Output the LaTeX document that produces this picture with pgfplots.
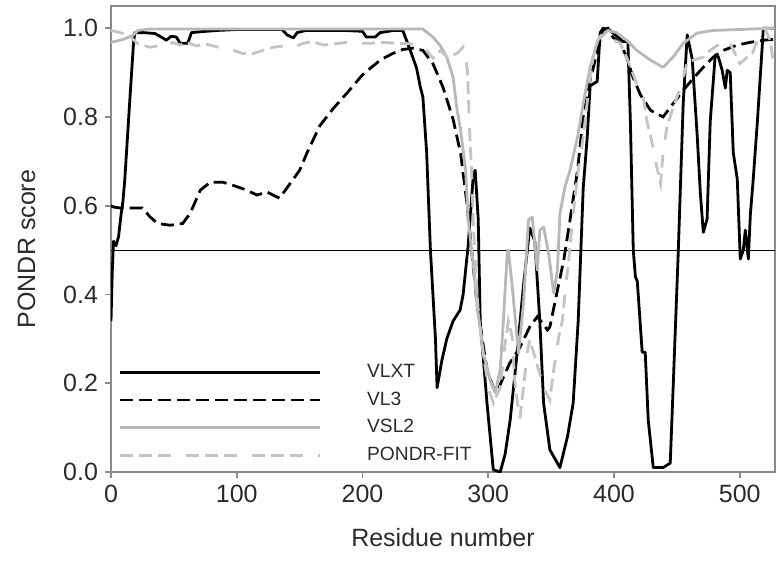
\documentclass[border=0pt]{standalone}
\usepackage{fontspec}
\setmainfont{Liberation Sans}
\usepackage{pgfplots}
\pgfplotsset{compat=1.18}

\definecolor{axgray}{HTML}{8A8A8A}
\definecolor{txt}{HTML}{2B2B2B}
\definecolor{vslgray}{HTML}{B8B8B8}
\definecolor{fitgray}{HTML}{C4C4C4}

\begin{document}
\begin{tikzpicture}
\useasboundingbox (-55.5pt,-48.5pt) rectangle (333pt,236pt);
\begin{axis}[
    name=ax,
    at={(0,0)}, anchor=south west,
    scale only axis,
    width=332pt, height=233pt,
    xmin=0, xmax=528, ymin=0, ymax=1.05,
    axis line style={axgray, line width=0.8pt},
    xtick={0,100,...,500},
    ytick={0,0.2,...,1.0},
    yticklabel style={/pgf/number format/.cd, fixed, fixed zerofill, precision=1},
    tick style={axgray, line width=0.8pt},
    major tick length=3pt,
    tick align=outside,
    xtick pos=bottom, ytick pos=left,
    /pgf/number format/assume math mode=true,
    ticklabel style={font=\fontsize{12.5}{14}\selectfont, text=txt},
    xlabel={Residue number},
    ylabel={PONDR score},
    label style={font=\fontsize{12.5}{15}\selectfont, text=txt},
    xlabel style={yshift=-6pt},
    ylabel style={yshift=7pt, xshift=-5pt},
    legend style={at={(0.0105,0.238)}, anchor=north west, draw=none, fill=none,
        inner sep=0pt, row sep=2.8pt,
        font=\fontsize{9.6}{11.5}\selectfont, text=txt,
        nodes={inner sep=1pt, text height=7pt, text depth=2pt}},
    legend cell align=left,
    legend image code/.code={\draw[#1] (0pt,0pt) -- (100pt,0pt); \path (122pt,0pt);},
]
\addplot[black, line width=0.5pt, forget plot] coordinates {(0,0.5) (528,0.5)};

% VLXT
\addplot[black, line width=1.4pt, line join=round] coordinates {
(0,0.34)(1,0.45)(2,0.52)(4,0.51)(6,0.53)(8,0.58)(9.5,0.61)(11,0.66)(15,0.84)(18,0.97)
(19,0.99)(26,0.99)(35,0.988)(40,0.98)(44,0.973)(48,0.982)(52,0.98)(55,0.966)(61,0.966)
(64,0.99)(71,0.992)(85,0.995)(100,0.997)(120,0.997)(136,0.997)(140,0.985)(145,0.978)
(148,0.99)(155,0.995)(185,0.995)(200,0.993)(203,0.98)(210,0.98)(214,0.99)(225,0.995)
(232,0.995)(238,0.95)(243,0.91)(246,0.867)(248,0.845)(251,0.72)(254,0.5)(258,0.30)
(259.3,0.19)(263,0.25)(267,0.30)(272,0.34)(277.6,0.365)(280,0.40)(284,0.51)(288,0.665)
(289.6,0.68)(292,0.57)(293.6,0.34)(299,0.155)(304,0.005)(309.5,0.0)(313.4,0.04)
(317.4,0.117)(323,0.27)(328,0.42)(333,0.55)(337,0.52)(341,0.34)(344,0.155)(349,0.05)
(357,0.01)(363,0.08)(367.5,0.155)(371.5,0.34)(375.5,0.64)(378.7,0.755)(381,0.87)
(386.6,0.88)(389,0.99)(391.4,1.0)(397,0.995)(407,0.97)(411,0.97)(413,0.79)(415.3,0.5)
(417,0.44)(418.5,0.43)(422.4,0.27)(424.8,0.27)(427.2,0.117)(431.2,0.01)(439,0.01)
(444.7,0.02)(447,0.19)(451,0.49)(455,0.83)(458.2,0.985)(462.2,0.93)(466.2,0.755)
(468.6,0.63)(471,0.54)(474,0.57)(476.5,0.79)(480.5,0.94)(483,0.935)(486,0.905)
(488.5,0.865)(490,0.905)(492.4,0.90)(494.8,0.72)(498,0.66)(500.4,0.48)(502.8,0.50)
(504.4,0.545)(506.8,0.48)(508.4,0.58)(510.7,0.66)(514,0.79)(518,0.966)(518.7,1.0)
(524.3,1.0)(528,1.0)};
\addlegendentry{VLXT}

% VL3
\addplot[black, line width=1.4pt, dash pattern=on 6.5pt off 3pt] coordinates {
(0,0.60)(2,0.597)(7,0.595)(25,0.595)(31,0.575)(37,0.56)(47,0.556)(57,0.56)(63,0.583)
(71,0.635)(79,0.653)(89,0.653)(97,0.646)(108,0.635)(116,0.624)(124,0.631)(134,0.617)
(145,0.66)(150,0.68)(156,0.72)(166,0.78)(177,0.82)(188,0.855)(200,0.895)(214,0.928)
(224,0.943)(232,0.952)(240,0.955)(248,0.95)(256,0.92)(264,0.867)(272,0.795)(278,0.718)
(283,0.606)(287,0.493)(291,0.38)(295,0.304)(299,0.23)(304,0.19)(307,0.18)(311,0.207)
(317,0.245)(325,0.28)(333,0.327)(339,0.35)(343,0.336)(347,0.32)(349,0.327)(355,0.41)
(360,0.477)(365,0.568)(371,0.68)(375.5,0.80)(381,0.883)(387,0.95)(391,0.995)(395,1.0)
(399,0.98)(405,0.966)(410,0.935)(415,0.89)(421,0.85)(429,0.815)(439,0.80)(447,0.83)
(455,0.86)(463,0.887)(471,0.912)(479,0.935)(487,0.95)(498,0.962)(508,0.968)(519,0.973)
(528,0.975)};
\addlegendentry{VL3}

% VSL2
\addplot[vslgray, line width=1.4pt, line join=round] coordinates {
(0,0.968)(10,0.975)(17.5,0.984)(21.5,0.995)(30,0.998)(248,0.998)(256,0.98)(262,0.96)
(267,0.935)(272,0.89)(275,0.82)(278,0.77)(282,0.68)(284,0.568)(288,0.47)(291,0.38)
(296,0.268)(301.5,0.207)(305.5,0.178)(309.5,0.23)(312,0.34)(315,0.49)(316,0.50)
(319,0.42)(323,0.30)(324,0.268)(328,0.38)(332,0.568)(335,0.574)(339,0.455)(341,0.545)
(344,0.552)(348,0.493)(352,0.403)(355,0.455)(357,0.583)(361,0.642)(365,0.68)(371,0.755)
(375.5,0.83)(381,0.912)(387,0.973)(395,0.995)(402,0.99)(410,0.973)(418,0.95)(429,0.928)
(439,0.912)(447,0.935)(455,0.966)(466,0.989)(479,0.995)(528,1.0)};
\addlegendentry{VSL2}

% PONDR-FIT
\addplot[fitgray, line width=1.4pt,
    dash pattern=on 6.5pt off 3pt on 6.5pt off 3pt on 6.5pt off 7.5pt] coordinates {
(0,0.995)(7,0.99)(14,0.985)(20.7,0.966)(31,0.957)(37,0.96)(43,0.955)(49,0.968)
(55,0.962)(60.5,0.968)(68,0.96)(75,0.965)(81,0.96)(89,0.955)(97,0.95)(105,0.943)
(113,0.943)(121,0.95)(129,0.957)(137,0.96)(145,0.957)(153,0.966)(160,0.97)(169,0.962)
(178,0.965)(188,0.968)(196,0.966)(206,0.966)(216,0.968)(228,0.966)(237,0.965)
(246,0.962)(251,0.95)(256,0.932)(262,0.95)(267,0.935)(272,0.94)(275,0.943)(280,0.957)
(282,0.94)(283.5,0.90)(285,0.78)(287,0.66)(288,0.568)(290,0.455)(292,0.365)(296,0.268)
(300,0.19)(304,0.155)(309.5,0.19)(313,0.28)(316,0.34)(319,0.304)(321,0.207)(325,0.117)
(328,0.19)(331,0.268)(333,0.297)(336,0.27)(340,0.23)(344,0.19)(349,0.162)(352,0.23)
(356,0.304)(359,0.342)(361,0.403)(364,0.477)(367,0.568)(371.5,0.68)(375.5,0.755)
(379.5,0.853)(383,0.928)(387,0.973)(391,0.989)(397,0.977)(405,0.966)(411,0.928)
(415,0.898)(419,0.867)(423,0.85)(426,0.793)(431,0.732)(434,0.687)(437,0.65)(439,0.718)
(442,0.777)(447,0.822)(453,0.867)(458,0.92)(463,0.928)(471,0.935)(476.5,0.95)
(484.5,0.966)(491,0.973)(495,0.95)(500,0.92)(506,0.935)(510,0.943)(514,0.973)
(518,0.989)(520,1.0)(524,0.973)(527,0.92)};
\addlegendentry{PONDR-FIT}
\end{axis}
\end{tikzpicture}
\end{document}
